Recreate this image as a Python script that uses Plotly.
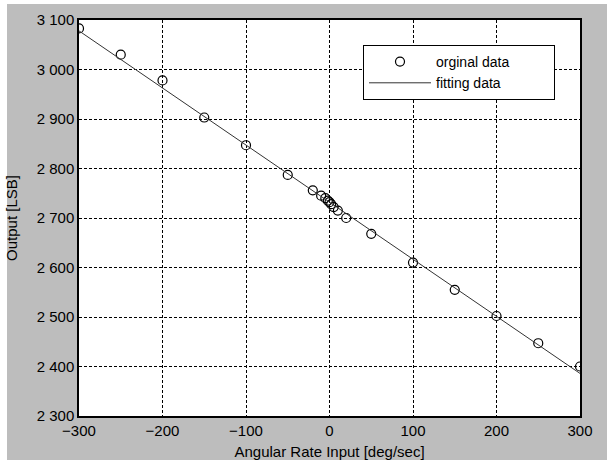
import plotly.graph_objects as go

rate_in = [-300, -250, -200, -150, -100, -50, -20, -10, -5, -2, 0, 2, 5, 10, 20, 50, 100, 150, 200, 250, 300]
output_lsb = [3083, 3030, 2978, 2903, 2847, 2787, 2756, 2745, 2740, 2735, 2732, 2728, 2722, 2715, 2700, 2668, 2610, 2555, 2502, 2447, 2400]
fit_x = [-300, 300]
fit_y = [3078, 2386]
x_ticks = [-300, -200, -100, 0, 100, 200, 300]
y_ticks = [2300, 2400, 2500, 2600, 2700, 2800, 2900, 3000, 3100]
y_tick_text = ["2 300", "2 400", "2 500", "2 600", "2 700", "2 800", "2 900", "3 000", "3 100"]
series_names = ["orginal data", "fitting data"]

FONT = "Liberation Sans, Arial, sans-serif"
L, R, T, B = 79, 27, 20, 44
PW, PH = 607 - L - R, 460 - T - B
PAD = "\u00a0" * 10

fig = go.Figure()
fig.add_trace(go.Scatter(x=rate_in, y=output_lsb, mode="markers", name=series_names[0] + PAD,
                         marker=dict(symbol="circle-open", size=9, color="black", line=dict(width=1.2))))
fig.add_trace(go.Scatter(x=fit_x, y=fit_y, mode="lines", name=series_names[1] + PAD,
                         line=dict(color="#333333", width=1)))

axis_common = dict(showgrid=True, gridcolor="black", griddash="3px,2px", gridwidth=1,
                   showline=True, linecolor="black", linewidth=1.5, mirror=True, automargin=False,
                   zeroline=False, ticks="", tickfont=dict(size=15, color="black", family=FONT))

fig.update_xaxes(range=[-300, 300], tickvals=x_ticks, ticklabelstandoff=0, **axis_common,
                 title=dict(text="Angular Rate Input [deg/sec]", font=dict(size=15, color="black", family=FONT)))
fig.update_yaxes(range=[2300, 3100], tickvals=y_ticks, ticktext=y_tick_text, **axis_common,
                 title=dict(text="Output [LSB]", font=dict(size=15, color="black", family=FONT)))

# white strips along the left and top edges of the page
fig.add_shape(type="rect", xref="paper", yref="paper", layer="below",
              x0=-L / PW, x1=(-L + 7) / PW, y0=-B / PH, y1=(PH + T) / PH,
              fillcolor="white", line=dict(width=0))
fig.add_shape(type="rect", xref="paper", yref="paper", layer="below",
              x0=-L / PW, x1=(PW + R) / PW, y0=(PH + T - 4) / PH, y1=(PH + T) / PH,
              fillcolor="white", line=dict(width=0))

fig.update_layout(
    width=607, height=460,
    paper_bgcolor="#bdbdbd", plot_bgcolor="white",
    margin=dict(l=L, r=R, t=T, b=B),
    font=dict(family=FONT, color="black"),
    legend=dict(x=(363 - L) / PW, y=(PH + T - 45) / PH, xanchor="left", yanchor="top",
                bgcolor="white", bordercolor="black", borderwidth=1,
                font=dict(size=14, family=FONT, color="black"),
                itemwidth=62, tracegroupgap=0),
    showlegend=True,
)

fig.write_html("out.html", config={"displayModeBar": False},
               post_script="document.body.style.margin='0';document.body.style.padding='0';")
